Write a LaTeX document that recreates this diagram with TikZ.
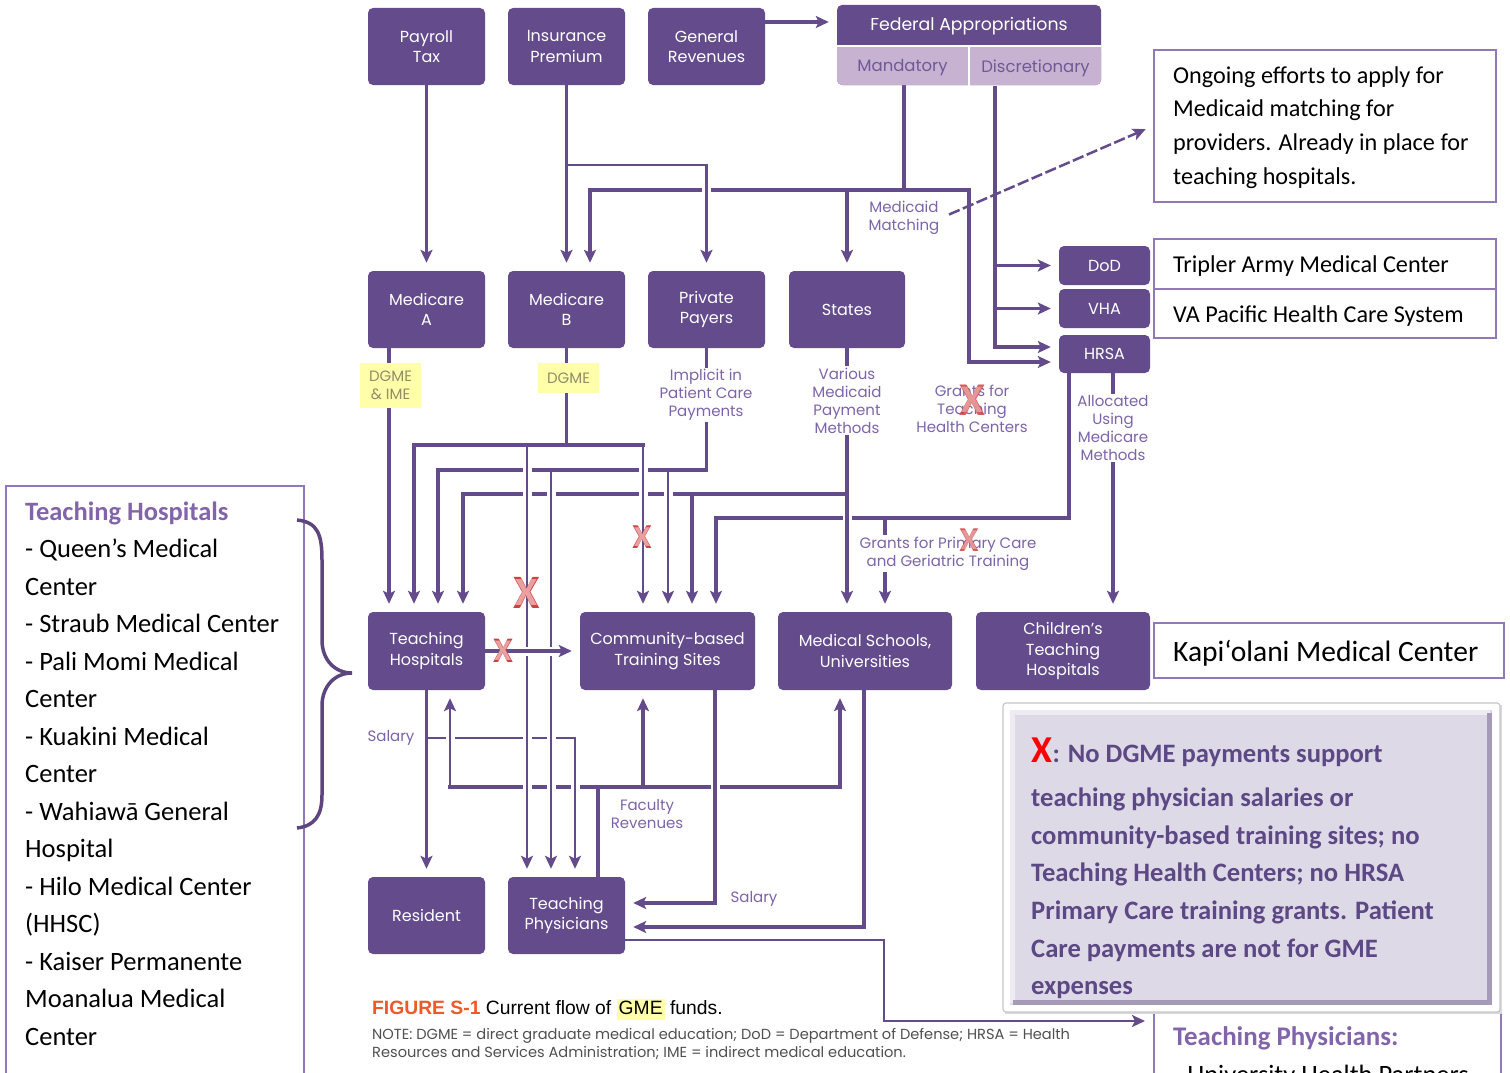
\documentclass[tikz,border=0pt]{standalone}
\usepackage{fontspec}
\newfontfamily\dfont{Poppins}
\newfontfamily\cfont{Carlito}
\newfontfamily\capfont{Liberation Sans}
\usetikzlibrary{arrows.meta}
\definecolor{boxc}{RGB}{100,75,140}
\definecolor{linec}{RGB}{100,75,140}
\definecolor{lightc}{RGB}{200,178,210}
\definecolor{lightt}{RGB}{110,90,150}
\definecolor{labc}{RGB}{125,100,170}
\definecolor{hl}{RGB}{255,255,170}
\definecolor{hlt}{RGB}{145,140,105}
\definecolor{framec}{RGB}{145,120,185}
\definecolor{xred}{RGB}{205,65,65}
\definecolor{xpink}{RGB}{232,160,160}
\definecolor{notet}{RGB}{92,72,132}
\definecolor{notebg}{RGB}{222,217,231}
\definecolor{bevd}{RGB}{165,155,185}
\definecolor{bevl}{RGB}{238,235,243}
\definecolor{figc}{RGB}{235,90,40}
\definecolor{titlec}{RGB}{130,100,170}
\definecolor{bracec}{RGB}{93,70,128}
\definecolor{notec}{RGB}{80,80,80}
\pgfdeclarelayer{bg}
\pgfdeclarelayer{lines}
\pgfsetlayers{bg,lines,main}
\begin{document}
\begin{tikzpicture}[x=1pt,y=-1pt,
  box/.style={fill=boxc, rounded corners=5pt, text=white, font=\dfont\fontsize{16}{20.5}\selectfont, align=center, inner sep=0pt},
  lab/.style={text=labc, font=\dfont\fontsize{15}{18}\selectfont, align=center, fill=white, inner sep=1.5pt},
  hlab/.style={fill=hl, text=hlt, font=\dfont\fontsize{15}{18}\selectfont, align=center, inner sep=0pt},
  ln/.style={draw=linec, line width=3.2pt, line cap=rect},
  thn/.style={draw=linec, line width=2.5pt, line cap=rect},
  arr/.style={-{Stealth[length=13pt,width=12pt,inset=3pt]}, shorten >=8pt},
  over/.style={preaction={draw=white, line width=9pt, -, shorten <=7pt, shorten >=7pt}},
  xmk/.style={text=xred, font=\cfont\bfseries\fontsize{#1}{#1}\selectfont, inner sep=0pt},
  xin/.style={text=xpink, font=\cfont\bfseries\fontsize{#1}{#1}\selectfont, inner sep=0pt},
  rbox/.style={draw=framec, line width=2pt, fill=white, inner sep=0pt},
  rtxt/.style={font=\cfont\fontsize{24.2}{28}\selectfont, anchor=base west, inner sep=0pt},
  ltxt/.style={font=\cfont\fontsize{26.5}{30}\selectfont, anchor=base west, inner sep=0pt},
  ntxt/.style={font=\cfont\bfseries\fontsize{26.6}{30}\selectfont, text=notet, anchor=base west, inner sep=0pt},
]
\begin{pgfonlayer}{bg}
\fill[white] (0,0) rectangle (1510,1073);
\end{pgfonlayer}
\useasboundingbox (0,0) rectangle (1510,1073);

% ---------- boxes ----------
\node[box, minimum width=117, minimum height=77] (PT) at (426.5,46.5) {Payroll\\Tax};
\node[box, minimum width=117, minimum height=77] (IP) at (566.5,46.5) {Insurance\\Premium};
\node[box, minimum width=117, minimum height=77] (GR) at (706.5,46.5) {General\\Revenues};

\fill[boxc, rounded corners=5pt] (837,5) rectangle (1101,85);
\fill[lightc, rounded corners=5pt] (837,47) rectangle (1101,85);
\fill[lightc] (837,47) rectangle (1101,60);
\draw[white, line width=2pt] (837,46) -- (1101,46) (969,46) -- (969,86);
\node[font=\dfont\fontsize{17.3}{20}\selectfont, text=white, minimum width=264, minimum height=40, inner sep=0pt] (FA) at (969,26) {Federal Appropriations};
\node[font=\dfont\fontsize{16.5}{20}\selectfont, text=lightt, minimum width=131, minimum height=38, inner sep=0pt] (MAND) at (902.5,68) {Mandatory};
\node[font=\dfont\fontsize{16.5}{20}\selectfont, text=lightt, minimum width=131, minimum height=38, inner sep=0pt] (DISC) at (1035.5,68) {Discretionary};

\node[box, minimum width=117, minimum height=77] (MA) at (426.5,309.5) {Medicare\\A};
\node[box, minimum width=117, minimum height=77] (MB) at (566.5,309.5) {Medicare\\B};
\node[box, minimum width=117, minimum height=77] (PP) at (706.5,309.5) {Private\\Payers};
\node[box, minimum width=116, minimum height=77] (ST) at (847,309.5) {States};
\node[box, minimum width=91, minimum height=39] (DoD) at (1104.5,265.5) {DoD};
\node[box, minimum width=91, minimum height=39] (VHA) at (1104.5,308.5) {VHA};
\node[box, minimum width=91, minimum height=38] (HRSA) at (1104.5,354) {HRSA};

\node[box, minimum width=117, minimum height=78] (TH) at (426.5,651) {Teaching\\Hospitals};
\node[box, minimum width=175, minimum height=78] (CB) at (667.5,651) {Community-based\\Training Sites};
\node[box, minimum width=174, minimum height=78] (MS) at (865,651) {Medical Schools,\\Universities};
\node[box, minimum width=174, minimum height=78] (CH) at (1063,651) {Children’s\\Teaching\\Hospitals};
\node[box, minimum width=117, minimum height=77] (RES) at (426.5,915.5) {Resident};
\node[box, minimum width=117, minimum height=77] (TP) at (566.5,915.5) {Teaching\\Physicians};

% ---------- labels ----------
\node[hlab, minimum width=61, minimum height=45] (lMA) at (390.5,385.5) {DGME\\\& IME};
\node[hlab, minimum width=61, minimum height=30] (lMB) at (568.5,378) {DGME};
\node[lab] (lPP) at (706,395) {Implicit in\\Patient Care\\Payments};
\node[lab] (lST) at (847,400.5) {Various\\Medicaid\\Payment\\Methods};
\node[lab] (lGT) at (972,409) {Grants for\\Teaching\\Health Centers};
\node[lab] (lHR) at (1113,428) {Allocated\\Using\\Medicare\\Methods};
\node[lab] (lMM) at (904,218) {Medicaid\\Matching};
\node[lab] (lGP) at (948,553.5) {Grants for Primary Care\\and Geriatric Training};
\node[lab] (lS1) at (391,738) {Salary};
\node[lab] (lFR) at (647,814) {Faculty\\Revenues};
\node[lab] (lS2) at (754,899) {Salary};

% ---------- right side boxes ----------
\node[rbox, anchor=north west, minimum width=342, minimum height=152] (ONG) at (1153,49) {};
\node[rtxt] (o1) at (1173,83) {Ongoing efforts to apply for};
\node[rtxt] (o2) at (1173,116) {Medicaid matching for};
\node[rtxt] (o3) at (1173,150) {providers. Already in place for};
\node[rtxt] (o4) at (1173,184) {teaching hospitals.};

\node[rbox, anchor=north west, minimum width=342, minimum height=50] (TRIP) at (1153,238) {};
\node[rbox, anchor=north west, minimum width=342, minimum height=49] (VAP) at (1153,288) {};
\node[rtxt] (t1) at (1173,272) {Tripler Army Medical Center};
\node[rtxt] (t2) at (1173,322) {VA Pacific Health Care System};

\node[rbox, anchor=north west, minimum width=350, minimum height=55] (KAP) at (1153,622) {};
\node[font=\cfont\fontsize{29.5}{32}\selectfont, anchor=base west, inner sep=0pt] (k1) at (1173,661) {Kapi‘olani Medical Center};

\node[rbox, anchor=north west, minimum width=347, minimum height=90] (TPB) at (1153,1010) {};
\node[font=\cfont\bfseries\fontsize{26.9}{30}\selectfont, text=titlec, anchor=base west, inner sep=0pt] (tp1) at (1173,1045) {Teaching Physicians:};
\node[font=\cfont\fontsize{26.5}{30}\selectfont, anchor=base west, inner sep=0pt] (tp2) at (1173,1083) {- University Health Partners};

% ---------- left list ----------
\node[rbox, anchor=north west, minimum width=298, minimum height=610] (THL) at (5,485) {};
\node[ltxt, font=\cfont\bfseries\fontsize{26.5}{30}\selectfont, text=titlec] (h0) at (25,520) {Teaching Hospitals};
\foreach \t [count=\i] in {{- Queen’s Medical},{Center},{- Straub Medical Center},{- Pali Momi Medical},{Center},{- Kuakini Medical},{Center},{- Wahiawā General},{Hospital},{- Hilo Medical Center},{(HHSC)},{- Kaiser Permanente},{Moanalua Medical},{Center}}
  \node[ltxt] (h\i) at (25,520+37.5*\i) {\t};

% brace
\draw[bracec, line width=3.5pt] (297,520) .. controls (318,522) and (322,535) .. (322,560) -- (322,640) .. controls (322,660) and (335,673) .. (352,673) .. controls (335,673) and (322,686) .. (322,706) -- (322,795) .. controls (322,815) and (315,826) .. (297,828);

% ---------- note box ----------
\fill[black!15] (1005,705) rectangle (1502,1014);
\draw[black!22, fill=white, line width=1.2pt, rounded corners=3pt] (1003,703) rectangle (1500,1012);
\fill[notebg] (1010,710) rectangle (1492,1005);
\draw[bevl, line width=5pt] (1012.5,1002.5) -- (1012.5,712.5) -- (1489.5,712.5);
\draw[bevd, line width=5pt] (1012.5,1002.5) -- (1489.5,1002.5) -- (1489.5,712.5);
\node[anchor=base west, inner sep=0pt, text=red, font=\cfont\bfseries\fontsize{38}{38}\selectfont] (nX) at (1031,762) {X};
\node[ntxt] (n1) at (nX.base east) {: No DGME payments support};
\node[ntxt] (n2) at (1031,806) {teaching physician salaries or};
\node[ntxt] (n3) at (1031,844) {community-based training sites; no};
\node[ntxt] (n4) at (1031,881) {Teaching Health Centers; no HRSA};
\node[ntxt] (n5) at (1031,919) {Primary Care training grants. Patient};
\node[ntxt] (n6) at (1031,957) {Care payments are not for GME};
\node[ntxt] (n7) at (1031,994) {expenses};

% ---------- caption ----------
\node[anchor=base west, inner sep=0pt, font=\capfont\fontsize{19.3}{20}\selectfont] (cap) at (372,1014) {\textcolor{figc}{\bfseries FIGURE S-1} Current flow of {\setlength{\fboxsep}{2pt}\colorbox{hl}{\vphantom{Ag}GME}} funds.};
\node[anchor=base west, inner sep=0pt, font=\dfont\fontsize{14.6}{18}\selectfont, text=notec] (nt1) at (372,1039) {NOTE: DGME = direct graduate medical education; DoD = Department of Defense; HRSA = Health};
\node[anchor=base west, inner sep=0pt, font=\dfont\fontsize{14.6}{18}\selectfont, text=notec] (nt2) at (372,1057) {Resources and Services Administration; IME = indirect medical education.};

% ---------- connectors ----------
\begin{pgfonlayer}{lines}
% top
\draw[ln,arr] (PT.south) -- (MA.north);
\draw[ln,arr] (IP.south) -- (MB.north);
\draw[ln,arr] (GR.east |- 0,22) -- (FA.west |- 0,22);
\draw[ln,arr,line width=3.6pt] (904,0 |- MAND.south) -- (904,190) -- (590,190) -- (590,0 |- MB.north);
\draw[ln,arr,line width=3.6pt] (904,190) -- (969,190) -- (969,362) -- (HRSA.west |- 0,362);
\draw[ln,arr] (847,190) -- (ST.north);
\draw[thn,arr,over] (566.5,165) -- (706.5,165) -- (PP.north);
\draw[ln,arr] (995,0 |- DISC.south) -- (995,347) -- (HRSA.west |- 0,347);
\draw[ln,arr] (995,265.5) -- (DoD.west);
\draw[ln,arr] (995,308.5) -- (VHA.west);
\draw[thn, dash pattern=on 9pt off 6pt, arr, shorten <=10pt] (lMM.east) -- (ONG.west);

% lower section
\draw[ln,arr] (TH.south) -- (RES.north);
\draw[ln,arr] (598,0 |- TP.north) -- (598,787) -- (840,787) -- (840,0 |- MS.south);
\draw[ln] (598,787) -- (450,787);
\draw[ln,arr] (643,787) -- (643,0 |- CB.south);
\draw[thn,arr,over] (426.5,738) -- (575,738) -- (575,0 |- TP.north);
\draw[thn,arr,over] (450,787) -- (450,0 |- TH.south);
\draw[ln,arr,over] (715,0 |- CB.south) -- (715,903) -- (TP.east |- 0,903);
\draw[ln,arr] (864,0 |- MS.south) -- (864,927) -- (TP.east |- 0,927);
\draw[thn,arr] (TP.east |- 0,940) -- (884,940) -- (884,1021) -- (TPB.west |- 0,1021);

% middle section
\draw[ln,arr,line width=3.6pt] (1069,0 |- HRSA.south) -- (1069,518) -- (716,518) -- (716,0 |- CB.north);
\draw[ln,arr] (885,518) -- (885,0 |- MS.north);
\draw[ln,arr,over] (ST.south) -- (ST.south |- MS.north);
\draw[ln,arr,line width=3.6pt] (847,494) -- (463,494) -- (463,0 |- TH.north);
\draw[ln,arr] (692,494) -- (692,0 |- CB.north);
\draw[ln,arr] (PP.south) -- (706.5,470) -- (438,470) -- (438,0 |- TH.north);
\draw[thn,arr,over] (551,470) -- (551,0 |- TP.north);
\draw[thn,arr,over] (668,470) -- (668,0 |- CB.north);
\draw[ln] (MB.south) -- (MB.south |- 0,445);
\draw[ln,arr] (643,445) -- (414,445) -- (414,0 |- TH.north);
\draw[thn,arr,over] (527,445) -- (527,0 |- TP.north);
\draw[thn,arr,over] (643,445) -- (643,0 |- CB.north);
\draw[ln,arr] (389,0 |- MA.south) -- (389,0 |- TH.north);
\draw[ln,arr] (1113,0 |- HRSA.south) -- (1113,0 |- CH.north);
\draw[ln,arr,over] (TH.east) -- (CB.west);
\end{pgfonlayer}

% ---------- red X marks (outlined look) ----------
\node[xmk=48] (x1) at (527,593) {X};
\node[xin=40] (x1i) at (x1) {X};
\node[xmk=35] (x2) at (642,537) {X};
\node[xin=29] (x2i) at (x2) {X};
\node[xmk=36] (x3) at (503,651) {X};
\node[xin=30] (x3i) at (x3) {X};
\node[xmk=47, opacity=0.85] (x4) at (972,400) {X};
\node[xin=39, opacity=0.85] (x4i) at (x4) {X};
\node[xmk=35, opacity=0.85] (x5) at (969,540) {X};
\node[xin=29, opacity=0.85] (x5i) at (x5) {X};
\end{tikzpicture}
\end{document}
